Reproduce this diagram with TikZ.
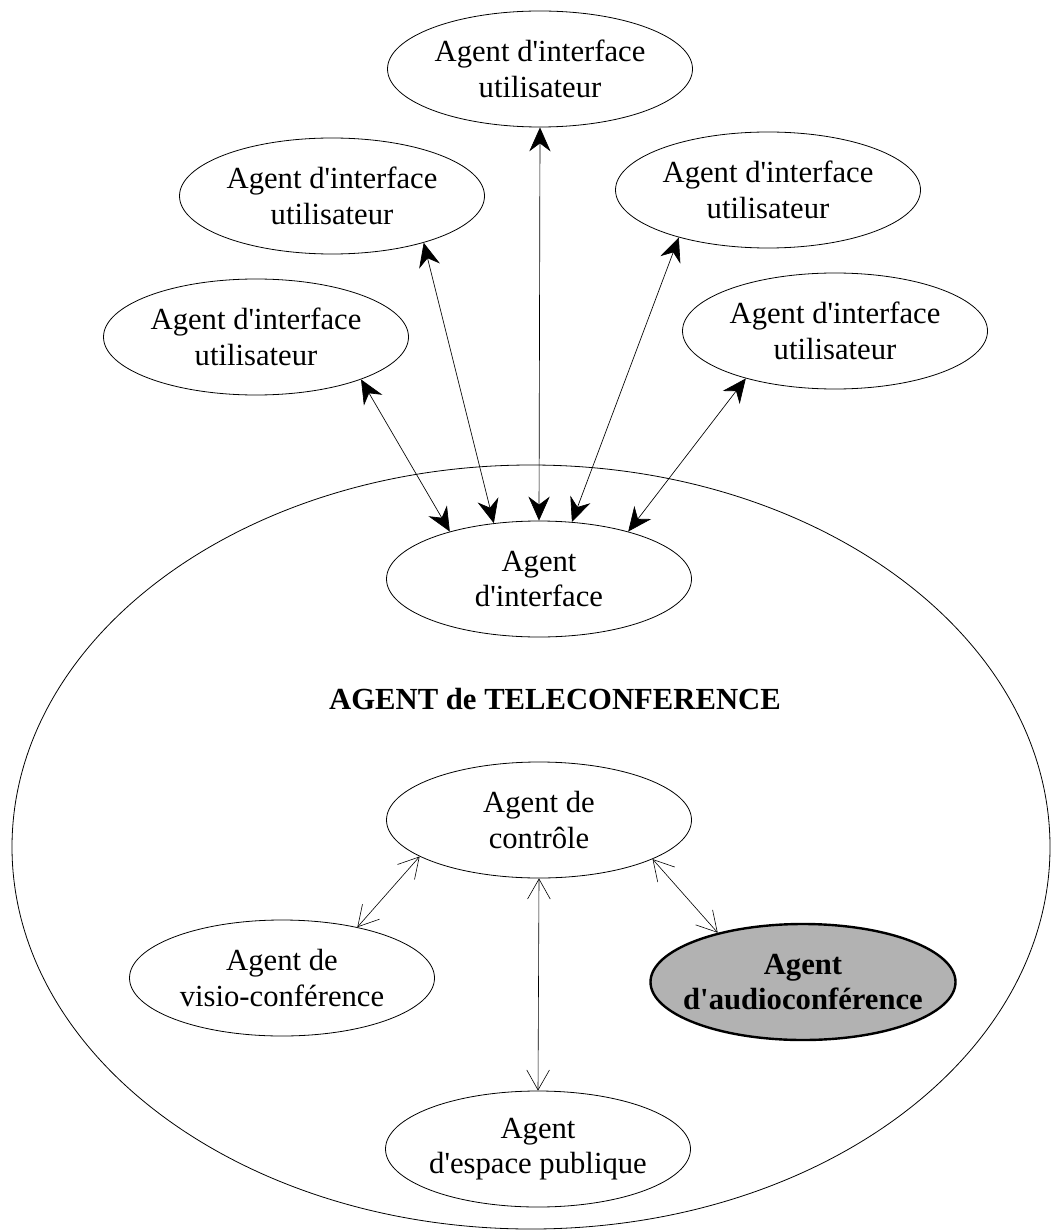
\documentclass[tikz,border=0pt]{standalone}
\usepackage{fontspec}
\setmainfont{Liberation Serif}[Ligatures=TeXOff]
\usetikzlibrary{shapes.geometric,arrows.meta}

\tikzset{
  agent/.style={draw, ellipse, line width=0.6pt, inner ysep=0pt, inner xsep=-3pt,
    minimum width=228.75pt, minimum height=87pt, align=center,
    font=\fontsize{23}{26.5}\selectfont},
  focus/.style={agent, fill=black!30, line width=1.8pt, inner xsep=-12pt,
    font=\fontsize{23}{26.5}\selectfont\bfseries},
  link/.style={line width=0.5pt,
    {Stealth[length=18pt,width=16pt,inset=6pt]}-{Stealth[length=18pt,width=16pt,inset=6pt]}},
  sublink/.style={line width=0.45pt,
    {Straight Barb[length=15pt,width=17pt]}-{Straight Barb[length=15pt,width=17pt]}}
}

\begin{document}
\begin{tikzpicture}[x=0.75pt, y=-0.75pt]
  \useasboundingbox (0,0) rectangle (1060,1230);

  % enclosing teleconference agent
  \node[draw, ellipse, line width=0.6pt, minimum width=778.5pt, minimum height=573pt]
    (tele) at (531,847) {};
  \node[font=\fontsize{23}{26.5}\selectfont\bfseries] (title) at (555,699)
    {AGENT de TELECONFERENCE};

  % user interface agents
  \node[agent] (u1) at (540,69)  {Agent d'interface\\utilisateur};
  \node[agent] (u2) at (332,196) {Agent d'interface\\utilisateur};
  \node[agent] (u3) at (768,190) {Agent d'interface\\utilisateur};
  \node[agent] (u4) at (256,337) {Agent d'interface\\utilisateur};
  \node[agent] (u5) at (835,331) {Agent d'interface\\utilisateur};

  % inner agents
  \node[agent] (iface)  at (539,579)  {Agent\\d'interface};
  \node[agent] (ctrl)   at (539,820)  {Agent de\\contrôle};
  \node[agent] (visio)  at (282,978)  {Agent de\\visio-conférence};
  \node[focus] (audio)  at (803,982)  {Agent\\d'audioconférence};
  \node[agent] (espace) at (538,1149) {Agent\\d'espace publique};

  % links between user agents and the interface agent
  \draw[link] (u1.south)  -- (iface.north);
  \draw[link] (u2.-27)    -- (iface.129);
  \draw[link] (u3.208.7)  -- (iface.60);
  \draw[link] (u4.-22.8)  -- (iface.152.5);
  \draw[link] (u5.208.4)  -- (iface.28.8);

  % links from the control agent
  \draw[sublink] (ctrl.197.4) -- (visio.34.2);
  \draw[sublink] (ctrl.south) -- (espace.north);
  \draw[sublink] (ctrl.-19.3) -- (audio.150);
\end{tikzpicture}
\end{document}
